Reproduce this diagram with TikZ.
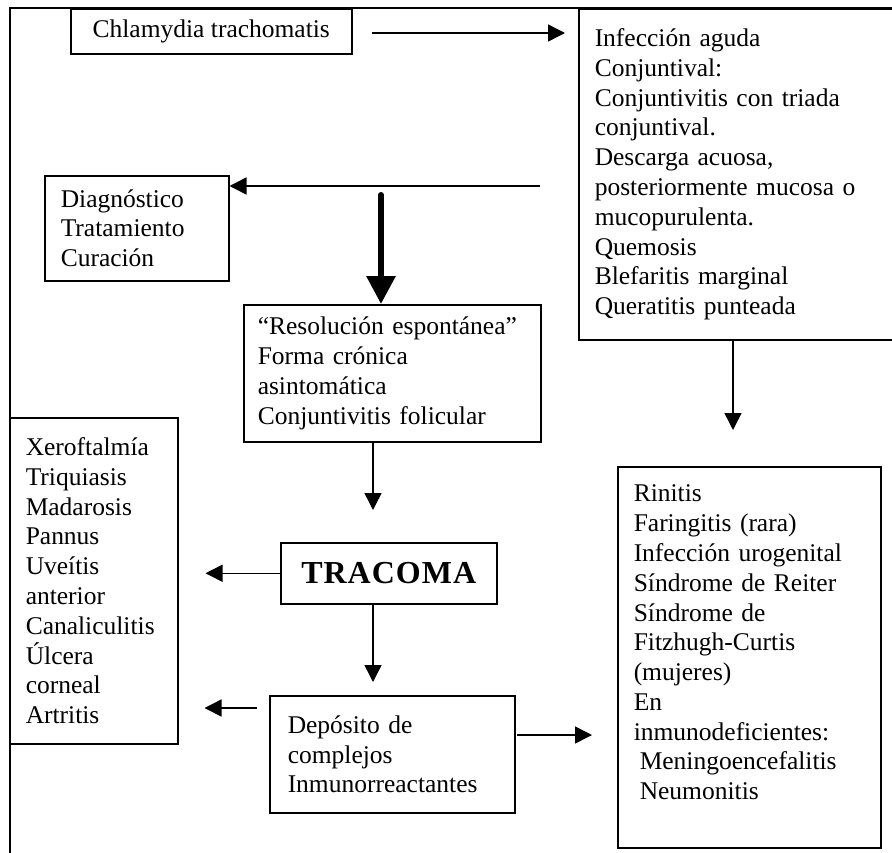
\documentclass[tikz,border=0pt]{standalone}
\usepackage{fontspec}
\setmainfont{Liberation Serif}
\usetikzlibrary{arrows.meta}

\tikzset{
  box/.style={draw, line width=1.5pt, anchor=north west, inner xsep=16pt, inner ysep=0pt, align=left},
  arr/.style={line width=1.5pt, -{Triangle[width=17pt,length=17pt]}},
  bigarr/.style={line width=6pt, line cap=round, -{Triangle[width=28pt,length=28pt]}}
}

\begin{document}
\begin{tikzpicture}[x=1pt, y=-1pt, font=\fontsize{25.5pt}{29.8pt}\selectfont]
  \useasboundingbox (0,0) rectangle (892,852);
  % outer frame (cut by the page)
  \draw[line width=2pt] (905,8) -| (10,865);

  \node[box, align=center, minimum width=281pt, minimum height=45pt] (chl) at (70,8) {Chlamydia trachomatis};
  \node[box, minimum width=330pt, minimum height=331pt, text width=298pt] (inf) at (578,8)
    {Infección aguda\\Conjuntival:\\Conjuntivitis con triada\\conjuntival.\\Descarga acuosa,\\posteriormente mucosa o\\mucopurulenta.\\Quemosis\\Blefaritis marginal\\Queratitis punteada};
  \node[box, minimum width=184pt, minimum height=105pt, text width=152pt] (diag) at (44,175)
    {Diagnóstico\\Tratamiento\\Curación};
  \node[box, inner xsep=14pt, minimum width=297pt, minimum height=137pt, text width=269pt] (res) at (243,304)
    {“Resolución espontánea”\\Forma crónica\\asintomática\\Conjuntivitis folicular};
  \node[box, align=center, minimum width=216pt, minimum height=61pt,
        font=\fontsize{32pt}{34pt}\selectfont\bfseries] (trac) at (280,542)
    {T\kern1pt R\kern1pt A\kern1pt C\kern1pt O\kern1pt M\kern1pt A};
  \node[box, minimum width=168pt, minimum height=326pt, text width=136pt] (xero) at (9,417)
    {Xeroftalmía\\Triquiasis\\Madarosis\\Pannus\\Uveítis\\anterior\\Canaliculitis\\Úlcera\\corneal\\Artritis};
  \node[box, inner xsep=18pt, minimum width=245pt, minimum height=117pt, text width=209pt] (depo) at (269,695)
    {Depósito de\\complejos\\Inmunorreactantes};
  \node[box, minimum width=263pt, minimum height=381pt, text width=231pt] (rin) at (617,466)
    {Rinitis\\Faringitis (rara)\\Infección urogenital\\Síndrome de Reiter\\Síndrome de\\Fitzhugh-Curtis\\(mujeres)\\En\\inmunodeficientes:\\\hspace*{6pt}Meningoencefalitis\\\hspace*{6pt}Neumonitis\\\mbox{}};

  % free ends of the arrows
  \coordinate (a1) at (372,33);
  \coordinate (a2) at (540,186);
  \coordinate (a3) at (381,195);
  \coordinate (mid) at (373,0);
  \coordinate (a7) at (257,708);
  \coordinate (a8) at (517,735);
  \coordinate (a9) at (733,0);

  \draw[arr, shorten >=13pt] (a1) -- (a1 -| inf.west);
  \draw[arr] (a2) -- (a2 -| diag.east);
  \draw[bigarr] (a3) -- (a3 |- res.north);
  \draw[arr, shorten >=32pt] (mid |- res.south) -- (mid |- trac.north);
  \draw[arr, shorten >=27pt] (trac.west) -- (trac.west -| xero.east);
  \draw[arr, shorten >=13pt] (mid |- trac.south) -- (mid |- depo.north);
  \draw[arr, shorten >=26pt] (a7) -- (a7 -| xero.east);
  \draw[arr, shorten >=25pt] (a8) -- (a8 -| rin.west);
  \draw[arr, shorten >=36pt] (a9 |- inf.south) -- (a9 |- rin.north);
\end{tikzpicture}
\end{document}
